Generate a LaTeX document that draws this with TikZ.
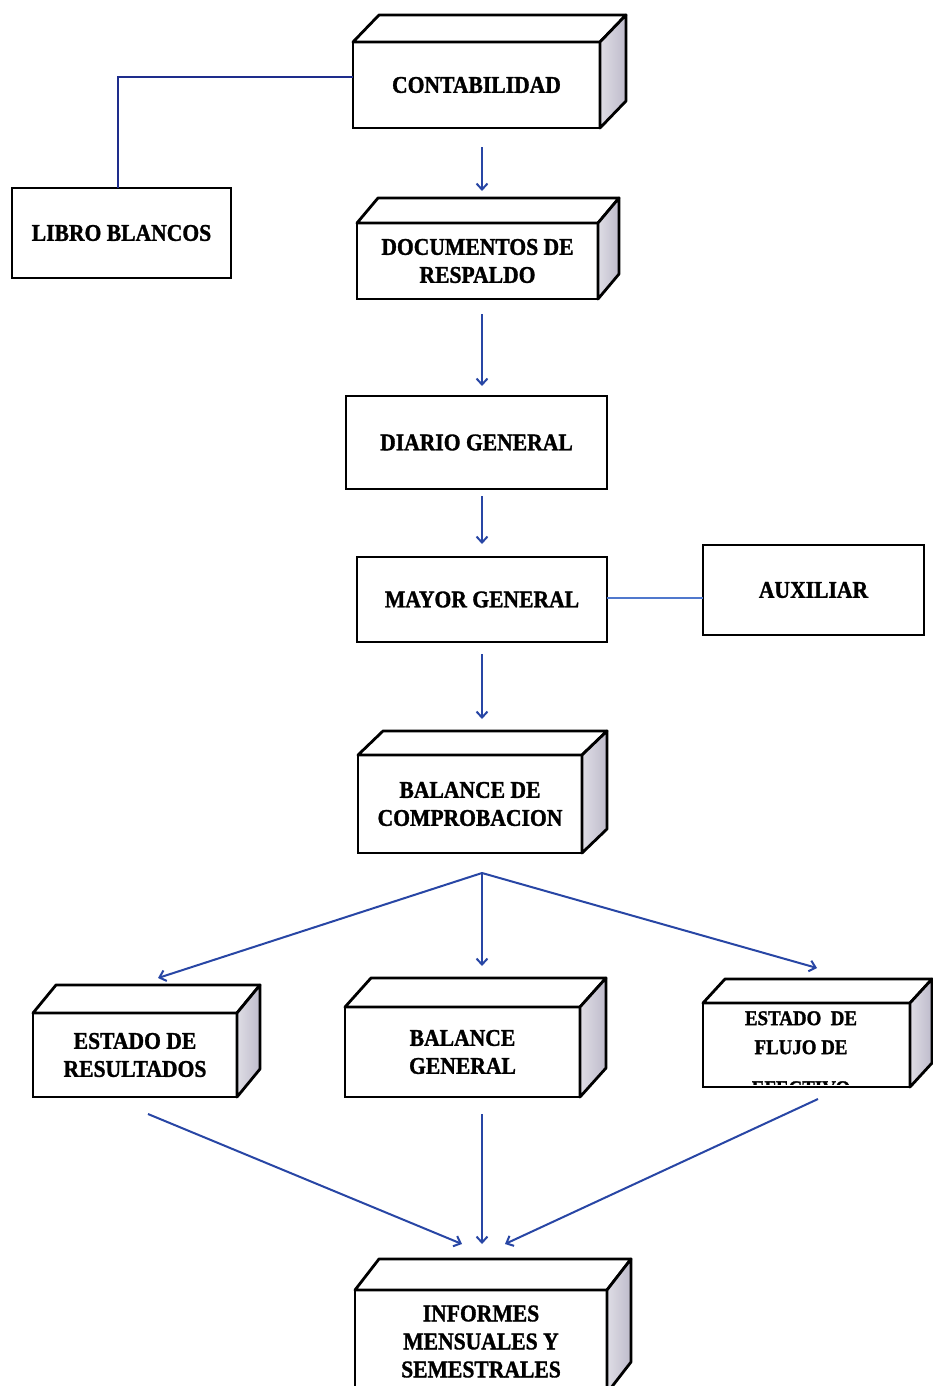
\documentclass[tikz,border=0pt]{standalone}
\usepackage{fontspec}
\setmainfont{Liberation Serif}[FakeStretch=0.9, BoldFeatures={FakeBold=1.3}]
\usetikzlibrary{arrows.meta,calc}
\definecolor{arrowblue}{RGB}{40,70,165}
\definecolor{navyline}{RGB}{30,45,140}
\definecolor{lightline}{RGB}{80,120,205}
\definecolor{sidegray}{RGB}{190,187,203}
\tikzset{
  face/.style={draw=black, line width=2.8pt, fill=white, inner sep=0pt, outer sep=0pt,
    align=center, font=\fontsize{24}{28}\selectfont\bfseries},
  topface/.style={draw=black, line width=2.8pt, fill=white, line join=round},
  sideface/.style={draw=black, line width=2.8pt, left color=sidegray!50, right color=sidegray, line join=round},
  arr/.style={draw=arrowblue, line width=2pt, -{Straight Barb[length=6pt,width=11pt]}},
  link/.style={draw=navyline, line width=2pt},
  lightlink/.style={draw=lightline, line width=2.4pt},
}
\newcommand\cuboid[3]{%
  \draw[topface] (#1.north west) -- ++(#2,#3) -- ($(#1.north east)+(#2,#3)$) -- (#1.north east) -- cycle;
  \draw[sideface] (#1.north east) -- ++(#2,#3) -- ($(#1.south east)+(#2,#3)$) -- (#1.south east) -- cycle;}
\begin{document}
\begin{tikzpicture}[x=1pt,y=-1pt]
\clip (0,0) rectangle (933,1386);
\fill[white] (0,0) rectangle (933,1386);
\coordinate (axis) at (482,0);
\coordinate (split) at (482,873);

\node[face, minimum width=247, minimum height=86] (contab) at (476.5,85) {CONTABILIDAD};
\cuboid{contab}{26}{-27}
\node[face, minimum width=219, minimum height=90] (libro) at (121.5,233) {LIBRO BLANCOS};
\node[face, minimum width=241, minimum height=76] (docs) at (477.5,261) {DOCUMENTOS DE\\RESPALDO};
\cuboid{docs}{21}{-25}
\node[face, minimum width=261, minimum height=93] (diario) at (476.5,442.5) {DIARIO GENERAL};
\node[face, minimum width=250, minimum height=85] (mayor) at (482,599.5) {MAYOR GENERAL};
\node[face, minimum width=221, minimum height=90] (aux) at (813.5,590) {AUXILIAR};
\node[face, minimum width=224, minimum height=98] (bcomp) at (470,804) {BALANCE DE\\COMPROBACION};
\cuboid{bcomp}{25}{-24}
\node[face, minimum width=204, minimum height=84] (eres) at (135,1055) {ESTADO DE\\RESULTADOS};
\cuboid{eres}{23}{-28}
\node[face, minimum width=235, minimum height=90] (bgen) at (462.5,1052) {BALANCE\\GENERAL};
\cuboid{bgen}{26}{-29}
\node[face, minimum width=207, minimum height=84] (eflujo) at (806.5,1045) {};
\cuboid{eflujo}{22}{-24}
\begin{scope}
  \clip (705,1003) rectangle (908,1084);
  \node[align=center, inner sep=0pt, anchor=north, font=\fontsize{21}{29}\selectfont\bfseries]
    (eflujotext) at (801,1011) {ESTADO\ \ DE\\FLUJO DE\\[12pt]EFECTIVO};
\end{scope}
\node[face, minimum width=252, minimum height=103] (informes) at (481,1341.5) {INFORMES\\MENSUALES Y\\SEMESTRALES};
\cuboid{informes}{24}{-31}

% links
\draw[link] ([xshift=-3.5pt]libro.north) |- ([yshift=8pt]contab.west);
\draw[lightlink] ([yshift=1.5pt]mayor.east) -- ([yshift=1.5pt]mayor.east -| aux.west);

% main arrows
\draw[arr, shorten <=19pt, shorten >=32pt] (contab.south -| axis) -- (docs.north -| axis);
\draw[arr, shorten <=15pt, shorten >=10pt] (docs.south -| axis) -- (diario.north -| axis);
\draw[arr, shorten <=7pt, shorten >=13pt] (diario.south -| axis) -- (mayor.north -| axis);
\draw[arr, shorten <=12pt, shorten >=36pt] (mayor.south -| axis) -- (bcomp.north -| axis);

% split
\draw[arr] (split) -- ([xshift=23pt,yshift=35pt]eres.north);
\draw[arr, shorten >=41pt] (split) -- (split |- bgen.north);
\draw[arr] (split) -- ([xshift=10.5pt,yshift=35pt]eflujo.north);

% to informes
\draw[arr] ([xshift=13pt,yshift=-17pt]eres.south) -- ([xshift=-19pt,yshift=46pt]informes.north);
\draw[arr, shorten <=17pt, shorten >=46pt] (bgen.south -| axis) -- (informes.north -| axis);
\draw[arr] ([xshift=11.5pt,yshift=-12pt]eflujo.south) -- ([xshift=24pt,yshift=46pt]informes.north);
\end{tikzpicture}
\end{document}
